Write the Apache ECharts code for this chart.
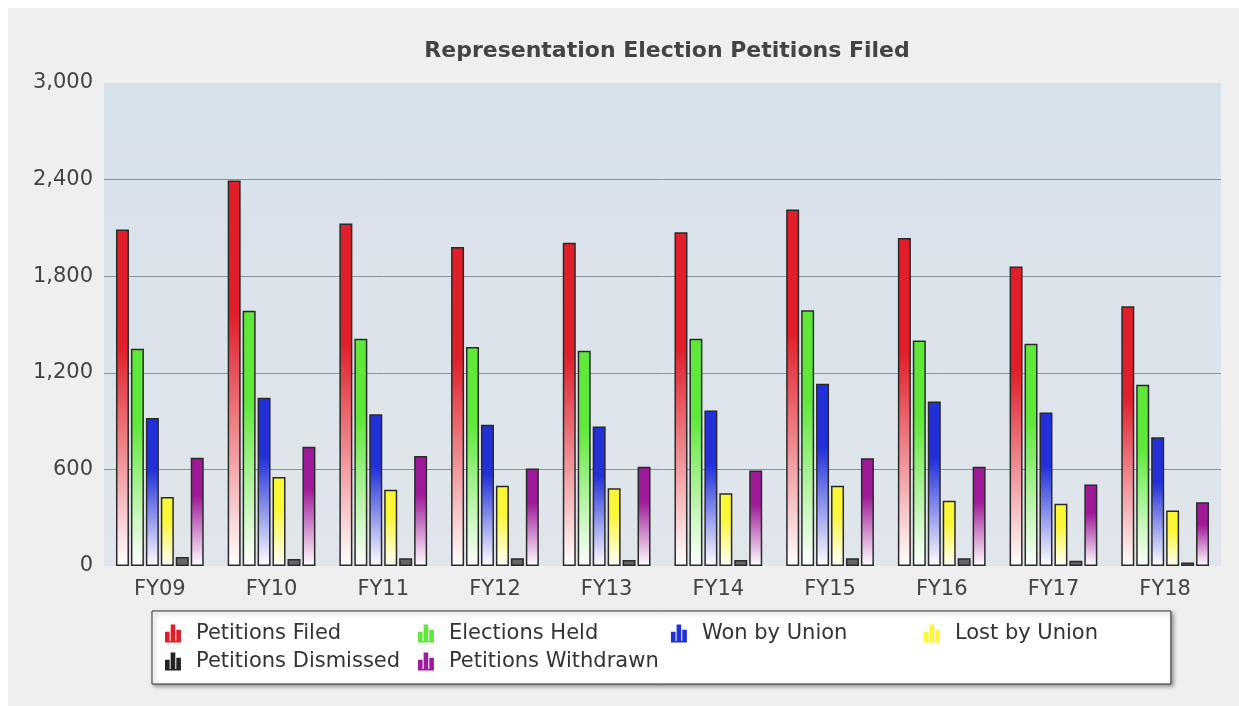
<!DOCTYPE html>
<html>
<head>
<meta charset="utf-8">
<script src="https://cdn.jsdelivr.net/npm/echarts@6/dist/echarts.min.js"></script>
<style>
html,body{margin:0;padding:0;background:#ffffff;}
#panel{position:absolute;left:8px;top:8px;width:1231px;height:698px;background:#efefef;}
#chart{position:absolute;left:0;top:0;width:1239px;height:706px;}
</style>
</head>
<body>
<div id="panel"></div>
<div id="chart"></div>
<script>
const categories = ["FY09","FY10","FY11","FY12","FY13","FY14","FY15","FY16","FY17","FY18"];
const petitionsFiled     = [2090, 2394, 2127, 1982, 2007, 2073, 2214, 2038, 1861, 1613];
const electionsHeld      = [1350, 1586, 1412, 1360, 1337, 1412, 1588, 1401, 1381, 1126];
const wonByUnion         = [920, 1045, 943, 877, 866, 966, 1132, 1022, 953, 800];
const lostByUnion        = [429, 553, 473, 498, 483, 452, 498, 406, 386, 344];
const petitionsDismissed = [56, 44, 48, 48, 37, 37, 48, 48, 33, 21];
const petitionsWithdrawn = [672, 740, 684, 605, 617, 593, 670, 617, 506, 396];
const yTicks = [0, 600, 1200, 1800, 2400, 3000];

const seriesDefs = [
  {name: "Petitions Filed", data: petitionsFiled, color: "#e01f2b"},
  {name: "Elections Held", data: electionsHeld, color: "#5fe83a"},
  {name: "Won by Union", data: wonByUnion, color: "#2130d8"},
  {name: "Lost by Union", data: lostByUnion, color: "#fbf636"},
  {name: "Petitions Dismissed", data: petitionsDismissed, color: "#222222"},
  {name: "Petitions Withdrawn", data: petitionsWithdrawn, color: "#9e1a98"}
];

const iconPath = 'path://M0,7 h4.5 v9 h-4.5 z M5.5,0 h4.5 v16 h-4.5 z M11,5 h4.5 v11 h-4.5 z M0,16 h15.5 v1.5 h-15.5 z';

const chart = echarts.init(document.getElementById('chart'), null, {renderer: 'canvas'});
const font = '"DejaVu Sans", Verdana, sans-serif';

chart.setOption({
  backgroundColor: 'transparent',
  animation: false,
  title: {
    text: 'Representation Election Petitions Filed',
    left: 662, top: 35, textAlign: 'center',
    textStyle: {fontFamily: font, fontSize: 22, fontWeight: 'bold', color: '#444444'}
  },
  grid: {
    left: 104, right: 18, top: 83, bottom: 140,
    show: true, borderWidth: 0,
    backgroundColor: {
      type: 'linear', x: 0, y: 0, x2: 0, y2: 1,
      colorStops: [{offset: 0, color: '#d7e1ea'}, {offset: 1, color: '#e0e6eb'}]
    }
  },
  legend: {
    left: 152, top: 611,
    width: 1015,
    padding: [12, 1, 12, 13],
    itemGap: 7,
    itemWidth: 16, itemHeight: 18,
    backgroundColor: '#ffffff',
    borderColor: '#333333', borderWidth: 1,
    shadowColor: 'rgba(0,0,0,0.4)', shadowBlur: 4, shadowOffsetX: 2, shadowOffsetY: 2,
    formatter: name => '{a|' + name + '}',
    textStyle: {
      fontFamily: font, fontSize: 21, color: '#333333',
      rich: {a: {fontFamily: font, fontSize: 21, color: '#333333', width: 215, lineHeight: 22, padding: [0, 0, 0, 10]}}
    },
    data: seriesDefs.map(s => ({name: s.name, icon: iconPath, itemStyle: {color: s.color, borderWidth: 0}}))
  },
  xAxis: {
    type: 'category',
    data: categories,
    axisLine: {show: false},
    axisTick: {show: false},
    axisLabel: {fontFamily: font, fontSize: 21, color: '#444444', margin: 13}
  },
  yAxis: {
    type: 'value',
    min: yTicks[0], max: yTicks[yTicks.length - 1], interval: 600,
    axisLine: {show: false},
    axisTick: {show: false},
    axisLabel: {
      fontFamily: font, fontSize: 21, color: '#444444', margin: 11,
      formatter: v => v.toLocaleString('en-US')
    },
    splitLine: {
      lineStyle: {color: '#8e9398', width: 1},
      showMinLine: false, showMaxLine: false
    }
  },
  series: seriesDefs.map((s, i) => ({
    name: s.name,
    type: 'bar',
    data: s.data,
    barWidth: 13,
    barGap: '15%',
    itemStyle: {
      borderColor: '#2a2a2a',
      borderWidth: 1.5,
      color: i === 4 ? '#666666' : {
        type: 'linear', x: 0, y: 0, x2: 0, y2: 1,
        colorStops: [
          {offset: 0, color: s.color},
          {offset: 0.35, color: s.color},
          {offset: 1, color: '#ffffff'}
        ]
      }
    }
  }))
});
</script>
</body>
</html>
